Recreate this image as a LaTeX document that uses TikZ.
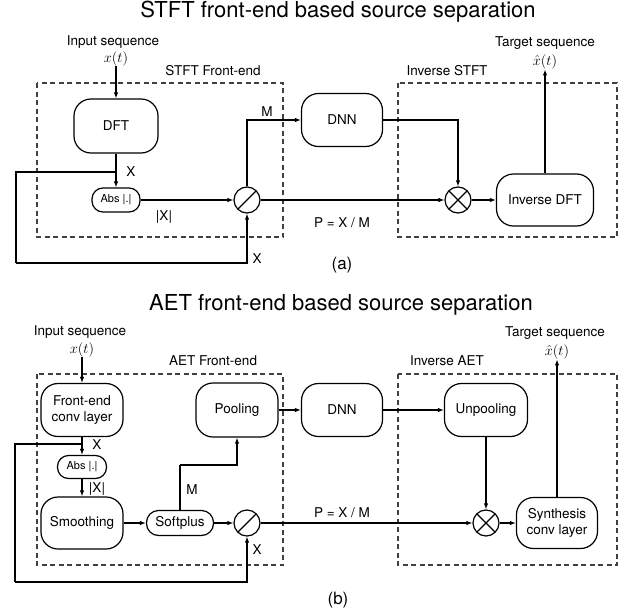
\documentclass[tikz,border=0pt]{standalone}
\usepackage{fontspec}
\setmainfont{TeX Gyre Heros}
\usetikzlibrary{positioning}
\usetikzlibrary{arrows.meta}

\tikzset{
	block/.style={draw, line width=1.2pt, rounded corners=17pt, align=center, inner sep=2pt, font=\fontsize{13.5}{16}\selectfont},
	smallblock/.style={draw, line width=1.2pt, rounded corners=11pt, inner sep=2pt, font=\fontsize{11}{13}\selectfont},
	divop/.style={draw, circle, line width=1.2pt, minimum size=26pt, inner sep=0pt,
		path picture={\draw[line width=1.2pt] (path picture bounding box.south west) -- (path picture bounding box.north east);}},
	mulop/.style={draw, circle, line width=1.2pt, minimum size=26pt, inner sep=0pt,
		path picture={\draw[line width=1.2pt] (path picture bounding box.south west) -- (path picture bounding box.north east)
			(path picture bounding box.north west) -- (path picture bounding box.south east);}},
	lbl/.style={inner sep=1pt, font=\fontsize{13.5}{16}\selectfont},
	seqlbl/.style={inner sep=0pt, font=\fontsize{15}{17}\selectfont},
	grp/.style={draw=black!75, line width=1.1pt, dash pattern=on 5pt off 3.5pt},
	sig/.style={line width=1.2pt},
	arr/.style={line width=1.2pt, -{Latex[length=6pt,width=4.5pt]}},
}

\begin{document}
\begin{tikzpicture}[x=1pt, y=-1pt]
	\useasboundingbox (0,0) rectangle (624,613);

	% STFT FRONT-END
	\node (titleA) at (338,12) {\fontsize{22}{26}\selectfont STFT front-end based source separation};

	\draw[grp] (37,83) rectangle (283,237);
	\node[lbl] (grpA1) at (213,71) {STFT Front-end};
	\draw[grp] (398,83) rectangle (617,237);
	\node[lbl] (grpA2) at (447,71) {Inverse STFT};

	\node[lbl] (inA) at (113,42) {Input sequence};
	\node[seqlbl] (xA) at (116,59) {$x(t)$};
	\node[lbl] (outA) at (545,43) {Target sequence};
	\node[seqlbl] (yA) at (545,62) {$\hat{x}(t)$};

	\node[block, minimum width=84pt, minimum height=54pt] (dft) at (116,126) {DFT};
	\node[smallblock, minimum width=48pt, minimum height=24pt] (absA) at (116,200) {Abs |.|};
	\node[divop] (divA) at (247,200) {};
	\node[block, minimum width=81pt, minimum height=53pt] (dnnA) at (342,120) {DNN};
	\node[mulop] (mulA) at (458,200) {};
	\node[block, minimum width=97pt, minimum height=52pt] (idft) at (545,200) {Inverse DFT};

	\coordinate (fbA0) at (116,172);
	\coordinate (fbA1) at (16,172);
	\coordinate (fbA2) at (16,263);

	\draw[arr] (xA.south) -- (dft.north);
	\draw[arr] (dft.south) -- (absA.north);
	\draw[sig] (fbA0) -- (fbA1) -- (fbA2);
	\draw[arr] (fbA2) -| (divA.south);
	\draw[arr] (absA.east) -- (divA.west);
	\draw[arr] (divA.north) |- (dnnA.west);
	\draw[arr] (dnnA.east) -| (mulA.north);
	\draw[arr] (divA.east) -- (mulA.west);
	\draw[arr] (mulA.east) -- (idft.west);
	\draw[arr] (idft.north) -- (yA.south);

	\node[lbl] (xlA1) at (131,172) {X};
	\node[lbl] (absxA) at (164,217) {|X|};
	\node[lbl] (xlA2) at (257,259) {X};
	\node[lbl] (mlA) at (267,112) {M};
	\node[lbl] (plA) at (342,223) {P = X / M};

	\node (capA) at (342,265) {\fontsize{17}{20}\selectfont (a)};

	% AET FRONT-END
	\node (titleB) at (341,305) {\fontsize{22}{26}\selectfont AET front-end based source separation};

	\draw[grp] (37,374) rectangle (283,565);
	\node[lbl] (grpB1) at (213,361) {AET Front-end};
	\draw[grp] (398,374) rectangle (617,565);
	\node[lbl] (grpB2) at (447,361) {Inverse AET};

	\node[lbl] (inB) at (80,332) {Input sequence};
	\node[seqlbl] (xB) at (82,350) {$x(t)$};
	\node[lbl] (outB) at (555,333) {Target sequence};
	\node[seqlbl] (yB) at (557,352) {$\hat{x}(t)$};

	\node[block, minimum width=82pt, minimum height=53pt] (feconv) at (82,410) {Front-end\\conv layer};
	\node[smallblock, minimum width=49pt, minimum height=23pt] (absB) at (82,467) {Abs |.|};
	\node[block, minimum width=82pt, minimum height=52pt] (smooth) at (82,523) {Smoothing};
	\node[block, rounded corners=12pt, minimum width=67pt, minimum height=25pt] (soft) at (180,523) {Softplus};
	\node[divop] (divB) at (247,523) {};
	\node[block, minimum width=82pt, minimum height=54pt] (pool) at (237,410) {Pooling};
	\node[block, minimum width=81pt, minimum height=53pt] (dnnB) at (342,410) {DNN};
	\node[block, minimum width=83pt, minimum height=53pt] (unpool) at (486,410) {Unpooling};
	\node[mulop] (mulB) at (486,523) {};
	\node[block, minimum width=81pt, minimum height=51pt] (synth) at (557,523) {Synthesis\\conv layer};

	\coordinate (fbB0) at (82,444);
	\coordinate (fbB1) at (15,444);
	\coordinate (fbB2) at (15,582);
	\coordinate (mB) at (180,465);

	\draw[arr] (xB.south) -- (feconv.north);
	\draw[arr] (feconv.south) -- (absB.north);
	\draw[arr] (absB.south) -- (smooth.north);
	\draw[sig] (fbB0) -- (fbB1) -- (fbB2);
	\draw[arr] (fbB2) -| (divB.south);
	\draw[arr] (smooth.east) -- (soft.west);
	\draw[arr] (soft.east) -- (divB.west);
	\draw[sig] (soft.north) -- (mB);
	\draw[arr] (mB) -| (pool.south);
	\draw[arr] (pool.east) -- (dnnB.west);
	\draw[arr] (dnnB.east) -- (unpool.west);
	\draw[arr] (unpool.south) -- (mulB.north);
	\draw[arr] (divB.east) -- (mulB.west);
	\draw[arr] (mulB.east) -- (synth.west);
	\draw[arr] (synth.north) -- (yB.south);

	\node[lbl] (xlB1) at (97,445) {X};
	\node[lbl] (absxB) at (97,489) {|X|};
	\node[lbl] (mlB) at (192,490) {M};
	\node[lbl] (xlB2) at (257,550) {X};
	\node[lbl] (plB) at (342,513) {P = X / M};

	\node (capB) at (338,600) {\fontsize{17}{20}\selectfont (b)};
\end{tikzpicture}
\end{document}
